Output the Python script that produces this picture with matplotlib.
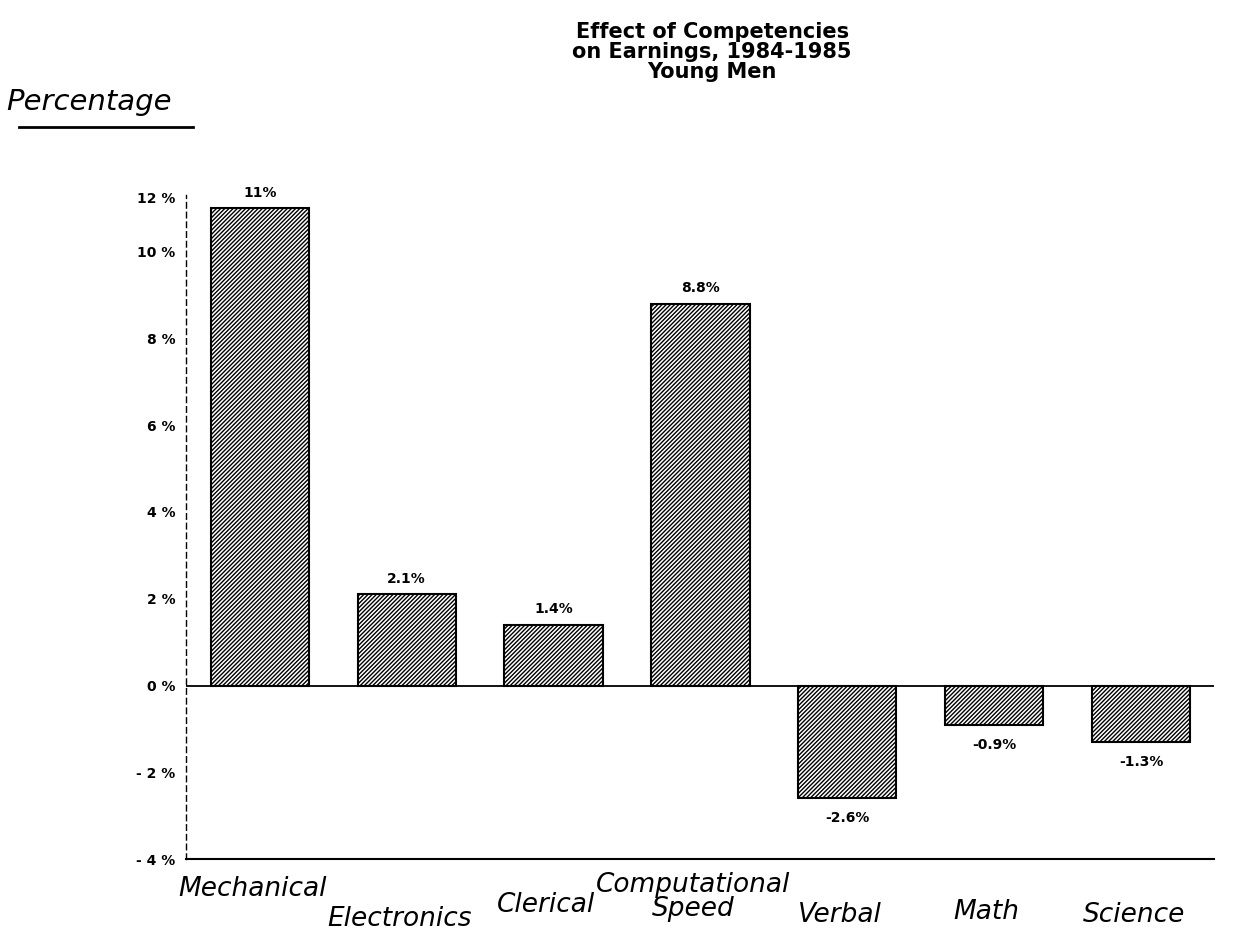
import matplotlib
matplotlib.use("Agg")
import matplotlib.pyplot as plt

categories = ["Mechanical", "Electronics", "Clerical", "Computational\nSpeed",
              "Verbal", "Math", "Science"]
values = [11.0, 2.1, 1.4, 8.8, -2.6, -0.9, -1.3]
value_labels = ["11%", "2.1%", "1.4%", "8.8%", "-2.6%", "-0.9%", "-1.3%"]
# the scanned axis squeezes the "12%" label in at the very top of the axis
yticks = [-4, -2, 0, 2, 4, 6, 8, 10, 11.25]
ytick_labels = ["- 4 %", "- 2 %", "0 %", "2 %", "4 %", "6 %", "8 %", "10 %", "12 %"]
# vertical nudge of the handwritten category names (axes fraction)
label_drop = [0.025, 0.07, 0.05, 0.02, 0.065, 0.06, 0.065]

plt.rcParams["hatch.linewidth"] = 1.0

fig = plt.figure(figsize=(12.43, 9.43), dpi=100)
ax = fig.add_axes([0.150, 0.089, 0.827, 0.704])

x = range(len(values))
ax.bar(x, values, width=0.67, color="white", edgecolor="black",
       hatch="////////", linewidth=1.5)
ax.axhline(0, color="black", lw=1.3)

for xi, v, lab in zip(x, values, value_labels):
    off = 0.2 if v >= 0 else -0.3
    ax.text(xi, v + off, lab, ha="center", va="bottom" if v >= 0 else "top",
            fontsize=10, fontweight="bold")

ax.set_xlim(-0.5, 6.5)
ax.set_ylim(-4, 11.3)
ax.set_yticks(yticks)
ax.set_yticklabels(ytick_labels, fontsize=10, fontweight="bold")
ax.set_xticks([])
ax.tick_params(axis="y", length=0, pad=8)

for s in ["top", "right"]:
    ax.spines[s].set_visible(False)
ax.spines["left"].set_linestyle((0, (4, 3)))
ax.spines["left"].set_linewidth(1.0)
ax.spines["bottom"].set_linewidth(1.5)

for xi, cat, d in zip(x, categories, label_drop):
    ax.text(xi - 0.05, -d, cat, transform=ax.get_xaxis_transform(), ha="center",
            va="top", fontsize=19, fontstyle="italic", linespacing=0.9)

fig.text(0.573, 0.977, "Effect of Competencies\non Earnings, 1984-1985\nYoung Men",
         ha="center", va="top", fontsize=15, fontweight="bold", linespacing=1.0)

fig.text(0.005, 0.892, "Percentage", ha="left", va="center", fontsize=21,
         fontstyle="italic")
fig.add_artist(plt.Line2D([0.015, 0.155], [0.865, 0.865], color="black", lw=2))

fig.savefig("out.png", dpi=100)
